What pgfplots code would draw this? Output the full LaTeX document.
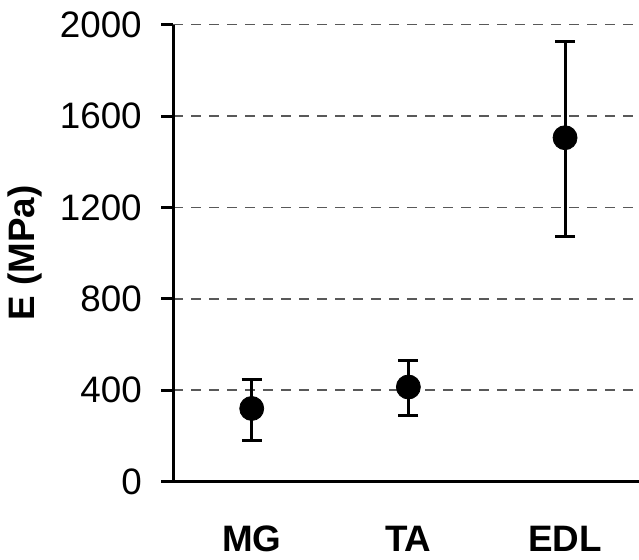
\documentclass[border=0pt]{standalone}
\usepackage{pgfplots}
\pgfplotsset{compat=1.18}
\usepackage{fontspec}
\setmainfont{Liberation Sans}
\begin{document}
\fontsize{18.4}{22}\selectfont
\begin{tikzpicture}
\begin{axis}[
  at={(0,0)}, anchor=south west,
  scale only axis,
  width=232.8pt, height=228.5pt,
  xmin=0.5, xmax=3.472,
  ymin=0, ymax=2000,
  axis lines*=left,
  axis line style={line width=1.5pt, black},
  ytick={0,400,800,1200,1600,2000},
  /pgf/number format/assume math mode=true,
  /pgf/number format/set thousands separator={},
  yticklabel style={font=\fontsize{18.4}{22}\selectfont, xshift=-3.5pt},
  tick align=outside,
  major tick length=6pt,
  ytick style={line width=1.5pt, black},
  ymajorgrids,
  grid style={dash pattern=on 5pt off 4pt, line width=0.75pt, gray!70!black},
  xtick={1,2,3},
  xticklabels={MG,TA,EDL},
  xtick style={draw=none},
  xticklabel style={font=\fontsize{18.4}{22}\selectfont\bfseries, yshift=-10pt},
  extra x ticks={0.5,1.5,2.5},
  extra x tick labels={},
  extra x tick style={grid=none, tick style={draw=black, line width=1.5pt}, major tick length=6.5pt},
  ylabel={E (MPa)},
  ylabel style={font=\fontsize{18.4}{22}\selectfont\bfseries, at={(axis description cs:-0.3187,0.5)}, anchor=center},
]
\addplot[only marks, mark=*, mark size=6pt, black,
  error bars/.cd, y dir=both, y explicit,
  error bar style={line width=1.5pt, black},
  error mark options={rotate=90, line width=1.5pt, mark size=5pt, black}]
coordinates {
  (1,320) += (0,128) -= (0,138)
  (2,414) += (0,116) -= (0,126)
  (3,1505) += (0,420) -= (0,434)
};
\end{axis}
\pgfresetboundingbox
\useasboundingbox (-86.7pt,-38.7pt) rectangle (232.8pt,240.8pt);
\end{tikzpicture}
\end{document}
